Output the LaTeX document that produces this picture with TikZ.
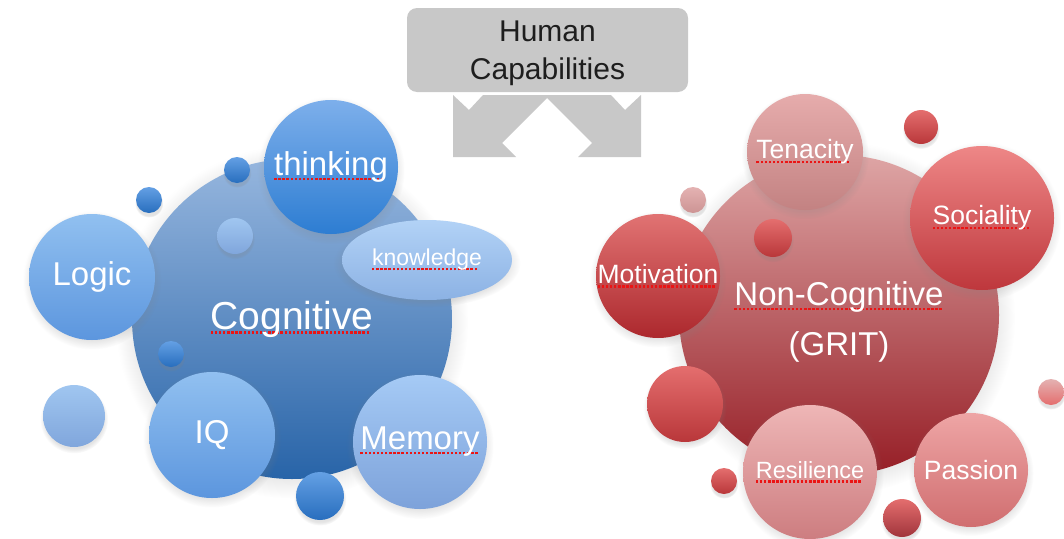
\documentclass[tikz,border=0pt]{standalone}
\usepackage{fontspec}
\setmainfont{Liberation Sans}
\usetikzlibrary{shapes.geometric,shadows}

\definecolor{boxgray}{RGB}{200,200,200}
\definecolor{cogtop}{RGB}{150,182,222}
\definecolor{cogbot}{RGB}{40,100,168}
\definecolor{thinktop}{RGB}{125,175,235}
\definecolor{thinkbot}{RGB}{45,125,210}
\definecolor{logictop}{RGB}{145,192,240}
\definecolor{logicbot}{RGB}{92,150,222}
\definecolor{memtop}{RGB}{165,202,245}
\definecolor{membot}{RGB}{125,162,218}
\definecolor{knowtop}{RGB}{178,210,246}
\definecolor{knowbot}{RGB}{140,178,228}
\definecolor{paletop}{RGB}{160,198,240}
\definecolor{palebot}{RGB}{128,166,220}
\definecolor{dottop}{RGB}{100,160,228}
\definecolor{dotbot}{RGB}{40,110,190}
\definecolor{ncgtop}{RGB}{222,165,165}
\definecolor{ncgbot}{RGB}{150,30,38}
\definecolor{tentop}{RGB}{230,172,172}
\definecolor{tenbot}{RGB}{195,130,130}
\definecolor{soctop}{RGB}{238,135,135}
\definecolor{socbot}{RGB}{190,55,60}
\definecolor{mottop}{RGB}{225,115,115}
\definecolor{motbot}{RGB}{172,40,45}
\definecolor{restop}{RGB}{238,182,182}
\definecolor{resbot}{RGB}{205,125,128}
\definecolor{pastop}{RGB}{238,165,165}
\definecolor{pasbot}{RGB}{208,110,112}
\definecolor{redtop}{RGB}{228,110,110}
\definecolor{redbot}{RGB}{185,55,58}
\definecolor{paleredtop}{RGB}{228,178,178}
\definecolor{paleredbot}{RGB}{205,148,148}
\definecolor{typored}{RGB}{235,20,20}

% red dotted spell-check mark under a word
\newsavebox{\typobox}
\newcommand{\typo}[1]{\sbox{\typobox}{#1}\rlap{\textcolor{typored}{\lower4.5pt\hbox to\wd\typobox{\leaders\hbox{\rule{2.4pt}{2.4pt}\hskip1.7pt}\hfill}}}\usebox{\typobox}}

\begin{document}
\begin{tikzpicture}[x=1pt, y=-1pt]
    \tikzstyle{bubble} = [circle, inner sep=0pt, text=white, circular drop shadow={shadow xshift=0pt, shadow yshift=-3pt, opacity=0.22}]
    \tikzstyle{blue dot} = [bubble, top color=dottop, bottom color=dotbot]
    \tikzstyle{red dot} = [bubble, top color=redtop, bottom color=redbot]
    \tikzstyle{huge text} = [font=\fontsize{39}{44}\selectfont]
    \tikzstyle{large text} = [font=\fontsize{33}{38}\selectfont]
    \tikzstyle{mid text} = [font=\fontsize{26.5}{30}\selectfont]
    \tikzstyle{small text} = [font=\fontsize{23.5}{27}\selectfont]
\useasboundingbox (0,0) rectangle (1064,538);

% top box and the two arrows
\fill[boxgray] (453,95) -- (453,157) -- (516,157) -- (502,143) -- (547,98) -- (592,143) -- (578,157) -- (641,157) -- (641,95) -- (625,110) -- (611,95) -- (483,95) -- (469,110) -- cycle;
\node[fill=boxgray, rounded corners=10pt, minimum width=281pt, minimum height=84pt] (capabilities) at (547.5,50) {};
\node[align=center, text={rgb,255:red,30;green,30;blue,30}, font=\fontsize{30}{38}\selectfont] (captext) at (547.5,53) {Human\\Capabilities};

% cognitive side
\node[bubble, minimum size=320pt, top color=cogtop, bottom color=cogbot, huge text] (cognitive) at (292,319) {\typo{Cognitive}};
\node[bubble, minimum size=134pt, top color=thinktop, bottom color=thinkbot, large text] (thinking) at (331,167) {\typo{thinking}};
\node[bubble, ellipse, minimum width=170pt, minimum height=80pt, top color=knowtop, bottom color=knowbot, font=\fontsize{23}{27}\selectfont] (knowledge) at (427,260) {\typo{knowledge}};
\node[bubble, minimum size=126pt, top color=logictop, bottom color=logicbot, large text] (logic) at (92,277) {Logic};
\node[bubble, minimum size=126pt, top color=logictop, bottom color=logicbot, large text] (iq) at (212,435) {IQ};
\node[bubble, minimum size=134pt, top color=memtop, bottom color=membot, large text] (memory) at (420,442) {\typo{Memory}};
\node[bubble, minimum size=62pt, top color=paletop, bottom color=palebot] (palebubble) at (74,416) {};
\node[bubble, minimum size=36pt, top color=paletop, bottom color=palebot] (innerbubble) at (235,236) {};
\node[blue dot, minimum size=48pt] (dot1) at (320,496) {};
\node[blue dot, minimum size=26pt] (dot2) at (149,200) {};
\node[blue dot, minimum size=26pt] (dot3) at (237,170) {};
\node[blue dot, minimum size=26pt] (dot4) at (171,354) {};

% non-cognitive side
\node[bubble, minimum size=320pt, top color=ncgtop, bottom color=ncgbot] (noncognitive) at (839,315) {};
\node[text=white, align=center, font=\fontsize{33}{50}\selectfont] (grit) at (839,322) {\typo{Non-Cognitive}\\(GRIT)};
\node[bubble, minimum size=116pt, top color=tentop, bottom color=tenbot, mid text] (tenacity) at (805,152) {\typo{Tenacity}};
\node[bubble, minimum size=144pt, top color=soctop, bottom color=socbot, mid text] (sociality) at (982,218) {\typo{Sociality}};
\node[bubble, minimum size=124pt, top color=mottop, bottom color=motbot, mid text] (motivation) at (658,276) {\typo{Motivation}};
\node[bubble, minimum size=134pt, top color=restop, bottom color=resbot, small text] (resilience) at (810,472) {\typo{Resilience}};
\node[bubble, minimum size=114pt, top color=pastop, bottom color=pasbot, mid text] (passion) at (971,470) {Passion};
\node[red dot, minimum size=76pt] (reddot1) at (685,404) {};
\node[red dot, minimum size=38pt] (reddot2) at (773,238) {};
\node[red dot, minimum size=34pt] (reddot3) at (921,127) {};
\node[red dot, minimum size=26pt] (reddot4) at (724,481) {};
\node[red dot, minimum size=38pt, bottom color=ncgbot!90] (reddot5) at (902,518) {};
\node[bubble, minimum size=26pt, top color=paleredtop, bottom color=paleredbot] (reddot6) at (693,200) {};
\node[bubble, minimum size=26pt, top color=paleredtop, bottom color=redtop] (reddot7) at (1051,392) {};
\end{tikzpicture}
\end{document}
